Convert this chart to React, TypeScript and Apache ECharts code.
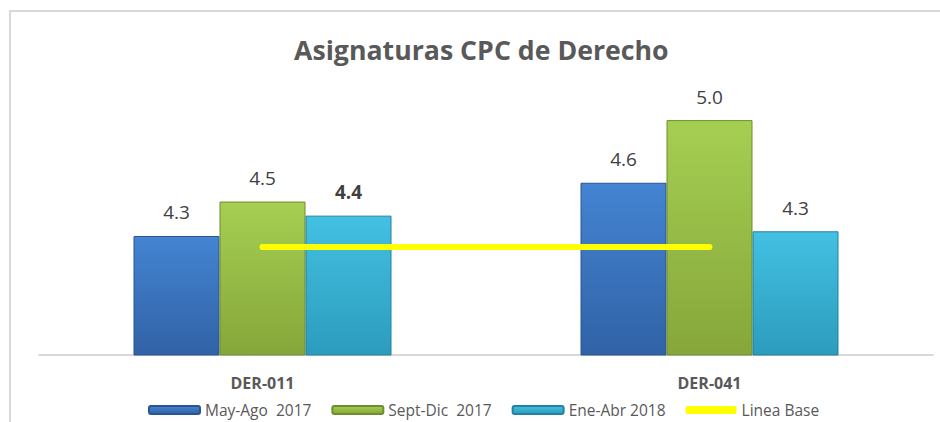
import React, { useEffect, useRef } from "react";
import * as echarts from "echarts";

const categories = ["DER-011", "DER-041"];
const seriesNames = ["May-Ago  2017", "Sept-Dic  2017", "Ene-Abr 2018", "Linea Base"];
const mayAgo2017 = [4.26, 4.6];
const septDic2017 = [4.48, 5.0];
const eneAbr2018 = [4.39, 4.29];
const lineaBase = [4.19, 4.19];
const boldLabel = [[false, false], [false, false], [true, false]];

const FONT = "'Open Sans', 'Noto Sans', sans-serif";

const grad = (top: string, bottom: string) =>
  new echarts.graphic.LinearGradient(0, 0, 0, 1, [
    { offset: 0, color: top },
    { offset: 1, color: bottom },
  ]);

export default function App() {
  const ref = useRef<HTMLDivElement>(null);
  useEffect(() => {
    document.body.style.margin = "0";
    document.body.style.overflow = "hidden";
    document.documentElement.style.overflow = "hidden";
    const chart = echarts.init(ref.current!, null, { renderer: "svg" });
    const barDefs = [
      { data: mayAgo2017, top: "#4484d2", bottom: "#3062a6", border: "#2a5590" },
      { data: septDic2017, top: "#a5cf52", bottom: "#86a63a", border: "#6f8c2e" },
      { data: eneAbr2018, top: "#43c0e2", bottom: "#2c9cbd", border: "#23829e" },
    ];
    const bars = barDefs.map((d, si) => ({
      name: seriesNames[si],
      type: "bar",
      barWidth: 86,
      barGap: "0%",
      itemStyle: { color: grad(d.top, d.bottom), borderColor: d.border, borderWidth: 1 },
      label: {
        show: true,
        position: "top",
        distance: 14,
        fontFamily: FONT,
        fontSize: 19,
        color: "#404040",
        formatter: (p: any) => Number(p.value).toFixed(1),
      },
      data: d.data.map((v, i) => ({
        value: v,
        label: boldLabel[si][i] ? { fontWeight: "bold" } : undefined,
      })),
    }));
    chart.setOption({
      animation: false,
      backgroundColor: "#ffffff",
      title: {
        text: "Asignaturas CPC de Derecho",
        left: 289,
        top: 31,
        textStyle: { fontFamily: FONT, fontSize: 26.7, fontWeight: "bold", color: "#595959" },
      },
      graphic: [
        {
          type: "polyline",
          shape: { points: [[10, 440], [10, 11], [960, 11]] },
          style: { fill: "none", stroke: "#d9d9d9", lineWidth: 2 },
          silent: true,
        },
      ],
      legend: {
        left: 143,
        top: 397,
        itemWidth: 51,
        itemHeight: 8,
        itemGap: 20,
        textStyle: { fontFamily: FONT, fontSize: 15.5, color: "#595959" },
        data: [
          seriesNames[0],
          seriesNames[1],
          seriesNames[2],
          { name: seriesNames[3], icon: "roundRect", itemStyle: { color: "#ffff00" } },
        ],
      },
      grid: { left: 39, right: 7, top: 88.8, bottom: 67 },
      xAxis: {
        type: "category",
        data: categories,
        axisLine: { lineStyle: { color: "#d9d9d9", width: 2 } },
        axisTick: { show: false },
        axisLabel: { margin: 20, fontFamily: FONT, fontSize: 16, fontWeight: "bold", color: "#595959" },
      },
      yAxis: {
        type: "value",
        min: 3.5,
        max: 5.2,
        show: false,
        splitLine: { show: false },
      },
      series: [
        ...bars,
        {
          name: seriesNames[3],
          type: "line",
          symbol: "none",
          lineStyle: { color: "#ffff00", width: 6, cap: "round" },
          itemStyle: { color: "#ffff00" },
          data: lineaBase,
          z: 5,
        },
      ],
    });
    return () => chart.dispose();
  }, []);
  return <div ref={ref} style={{ width: 940, height: 422 }} />;
}
